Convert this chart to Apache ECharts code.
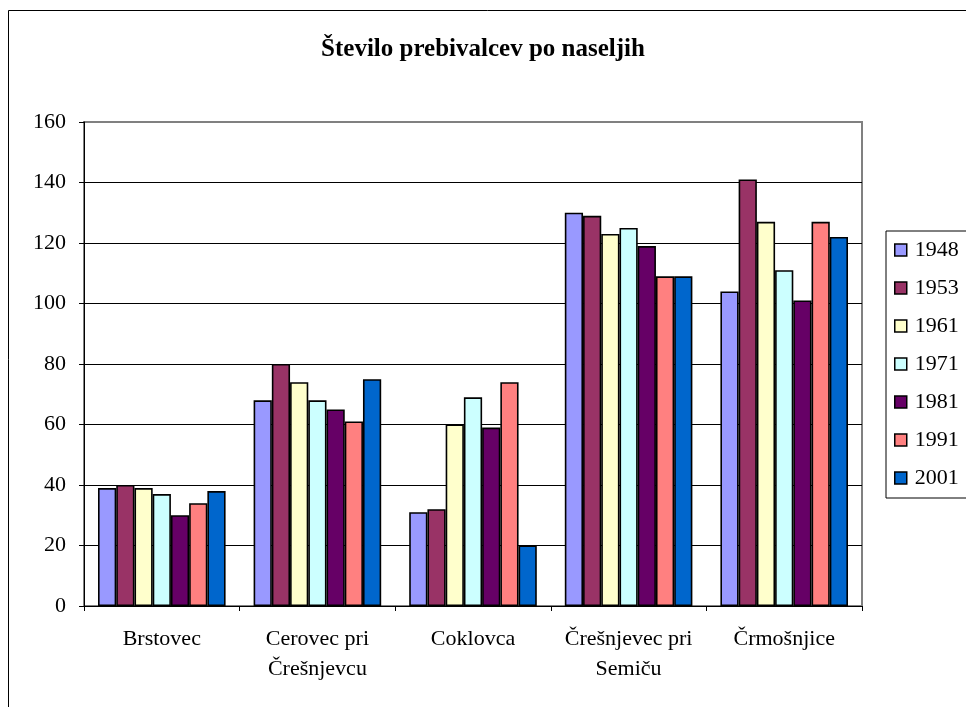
<!DOCTYPE html>
<html>
<head>
<meta charset="utf-8">
<script src="https://cdn.jsdelivr.net/npm/echarts@6/dist/echarts.min.js"></script>
<style>
  html, body { margin: 0; padding: 0; background: #fff; }
  #main { width: 966px; height: 707px; }
</style>
</head>
<body>
<div id="main"></div>
<script>
var naselja = ['Brstovec', 'Cerovec pri\nČrešnjevcu', 'Coklovca', 'Črešnjevec pri\nSemiču', 'Črmošnjice'];
var leta = ['1948', '1953', '1961', '1971', '1981', '1991', '2001'];
var barve = ['#9999FF', '#993366', '#FFFFCC', '#CCFFFF', '#660066', '#FF8080', '#0066CC'];

// prebivalci po letih, vrstni red kot naselja
var v1948 = [39, 68, 31, 130, 104];
var v1953 = [40, 80, 32, 129, 141];
var v1961 = [39, 74, 60, 123, 127];
var v1971 = [37, 68, 69, 125, 111];
var v1981 = [30, 65, 59, 119, 101];
var v1991 = [34, 61, 74, 109, 127];
var v2001 = [38, 75, 20, 109, 122];
var podatki = [v1948, v1953, v1961, v1971, v1981, v1991, v2001];

var myChart = echarts.init(document.getElementById('main'));
var pisava = '"Liberation Serif", "Times New Roman", serif';

var series = leta.map(function(leto, i) {
  return {
    name: leto,
    type: 'bar',
    data: podatki[i],
    barGap: '0%',
    barCategoryGap: '18%',
    itemStyle: { color: barve[i], borderColor: '#000', borderWidth: 1.6 }
  };
});

myChart.setOption({
  backgroundColor: '#fff',
  animation: false,
  textStyle: { fontFamily: pisava },
  title: {
    text: 'Število prebivalcev po naseljih',
    left: 'center',
    top: 32,
    textStyle: { fontFamily: pisava, fontSize: 25, fontWeight: 'bold', color: '#000' }
  },
  graphic: [{
    type: 'rect',
    shape: { x: 8.5, y: 10.5, width: 1000, height: 800 },
    style: { fill: null, stroke: '#000', lineWidth: 1 },
    silent: true
  }, {
    type: 'rect',
    shape: { x: 84, y: 122, width: 778, height: 484 },
    style: { fill: null, stroke: '#808080', lineWidth: 2 },
    silent: true,
    z: -1
  }],
  legend: {
    orient: 'vertical',
    left: 886,
    top: 231,
    padding: [8, 30, 9, 8],
    itemWidth: 12,
    itemHeight: 12,
    itemGap: 16,
    borderColor: '#000',
    borderWidth: 1,
    backgroundColor: '#fff',
    icon: 'rect',
    itemStyle: { borderColor: '#000', borderWidth: 1.5 },
    textStyle: { fontFamily: pisava, fontSize: 22, color: '#000', padding: [0, 0, 0, 3] },
    data: leta
  },
  grid: { left: 84, top: 122, right: 104, bottom: 101, containLabel: false },
  xAxis: {
    type: 'category',
    data: naselja,
    axisLine: { lineStyle: { color: '#000', width: 1 } },
    axisTick: { show: true, length: 5, lineStyle: { color: '#000' } },
    axisLabel: { interval: 0, fontFamily: pisava, fontSize: 22, color: '#000', margin: 18, lineHeight: 30 }
  },
  yAxis: {
    type: 'value',
    min: 0,
    max: 160,
    interval: 20,
    axisLine: { show: true, lineStyle: { color: '#000', width: 1 } },
    axisTick: { show: true, length: 5, lineStyle: { color: '#000' } },
    axisLabel: { fontFamily: pisava, fontSize: 22, color: '#000', margin: 18 },
    splitLine: { showMaxLine: false, lineStyle: { color: '#000', width: 1 } }
  },
  series: series
});
window.onresize = myChart.resize;
</script>
</body>
</html>
